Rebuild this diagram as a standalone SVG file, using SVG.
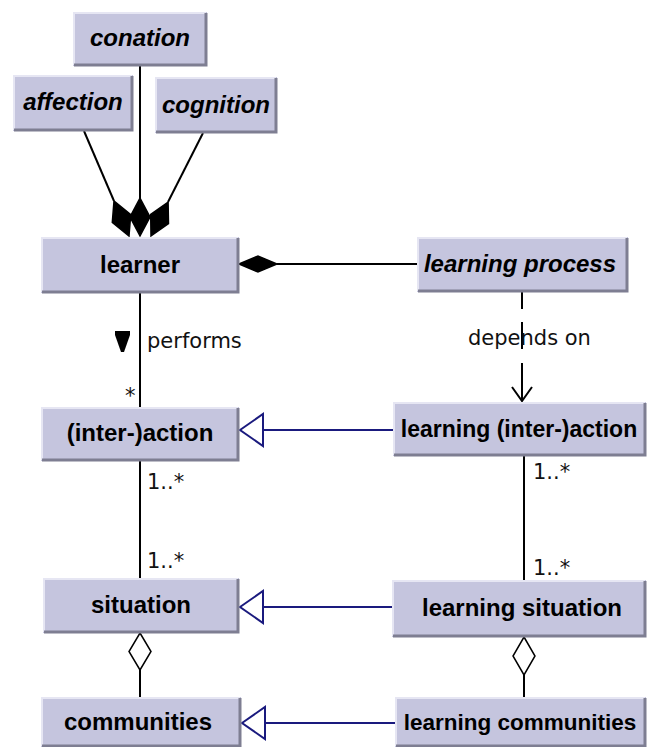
<svg xmlns="http://www.w3.org/2000/svg" width="647" height="747" viewBox="0 0 647 747">
<style>
.box{fill:#c5c5de}
.hl{fill:none;stroke:#e6e6f3;stroke-width:2}
.sh{fill:none;stroke:#7e7e92;stroke-width:3}
.lbl{font-family:"Liberation Sans",Arial,sans-serif;font-weight:bold;font-size:24px;fill:#000;text-anchor:middle}
.it{font-style:italic}
.small{font-family:"DejaVu Sans",sans-serif;font-size:21px;fill:#111}
.ln{stroke:#000;stroke-width:2;fill:none}
.gen{stroke:#1a1a7e;stroke-width:2;fill:none}
.tri{stroke:#1a1a7e;stroke-width:2;fill:#fff}
.dia{stroke:#000;stroke-width:1.5;fill:#000}
.odia{stroke:#000;stroke-width:1.5;fill:#fff}
</style>
<rect width="647" height="747" fill="#fff"/>
<g id="connectors">
  <line class="ln" x1="140" y1="66" x2="140" y2="200"/>
  <line class="ln" x1="84" y1="131" x2="114" y2="201"/>
  <line class="ln" x1="203" y1="133" x2="168" y2="202"/>
  <polygon class="dia" points="140,236 150,217 140,198 130,217"/>
  <polygon class="dia" points="129,236 130.7,214.6 114,201 112.3,222.4"/>
  <polygon class="dia" points="151,236 168.5,223.5 168.1,202.1 150.7,214.5"/>
  <line class="ln" x1="277" y1="264" x2="417" y2="264"/>
  <polygon class="dia" points="239,264 258,256 277,264 258,272"/>
  <line class="ln" x1="140" y1="293" x2="140" y2="407"/>
  <polygon points="115,331 130,331 130,335 124,352 121,352 115,335" fill="#000"/>
  <text class="small" x="147" y="348">performs</text>
  <text class="small" x="125" y="403">*</text>
  <line class="ln" x1="522" y1="292" x2="522" y2="309"/>
  <line class="ln" x1="522" y1="322" x2="522" y2="349"/>
  <line class="ln" x1="522" y1="363" x2="522" y2="401"/>
  <polyline class="ln" points="512,387 522,401 532,387"/>
  <text class="small" x="468" y="345">depends on</text>
  <line class="gen" x1="263" y1="430" x2="393" y2="430"/>
  <polygon class="tri" points="240,430 263,414 263,446"/>
  <line class="ln" x1="140" y1="461" x2="140" y2="578"/>
  <text class="small" x="147" y="489">1..*</text>
  <text class="small" x="147" y="568">1..*</text>
  <line class="ln" x1="524" y1="456" x2="524" y2="580"/>
  <text class="small" x="533" y="479">1..*</text>
  <text class="small" x="533" y="575">1..*</text>
  <line class="gen" x1="263" y1="607" x2="392" y2="607"/>
  <polygon class="tri" points="240,607 263,591 263,623"/>
  <line class="ln" x1="140" y1="670" x2="140" y2="697"/>
  <polygon class="odia" points="140,633 151,651.5 140,670 129,651.5"/>
  <line class="ln" x1="524" y1="675" x2="524" y2="697"/>
  <polygon class="odia" points="524,637 535,656 524,675 513,656"/>
  <line class="gen" x1="265" y1="723" x2="395" y2="723"/>
  <polygon class="tri" points="242,723 265,707 265,739"/>
</g>
<g id="conation">
  <rect class="box" x="73" y="12" width="134" height="54"/>
  <polyline class="hl" points="74,65 74,13 206,13"/>
  <polyline class="sh" points="74,65 206,65 206,13"/>
  <text class="lbl it" x="140" y="46">conation</text>
</g>
<g id="affection">
  <rect class="box" x="13" y="75" width="120" height="56"/>
  <polyline class="hl" points="14,130 14,76 132,76"/>
  <polyline class="sh" points="14,130 132,130 132,76"/>
  <text class="lbl it" x="73" y="110">affection</text>
</g>
<g id="cognition">
  <rect class="box" x="155" y="77" width="122" height="56"/>
  <polyline class="hl" points="156,132 156,78 276,78"/>
  <polyline class="sh" points="156,132 276,132 276,78"/>
  <text class="lbl it" x="216" y="113">cognition</text>
</g>
<g id="learner">
  <rect class="box" x="41" y="237" width="198" height="56"/>
  <polyline class="hl" points="42,292 42,238 238,238"/>
  <polyline class="sh" points="42,292 238,292 238,238"/>
  <text class="lbl" x="140" y="273">learner</text>
</g>
<g id="learning-process">
  <rect class="box" x="417" y="237" width="211" height="55"/>
  <polyline class="hl" points="418,291 418,238 627,238"/>
  <polyline class="sh" points="418,291 627,291 627,238"/>
  <text class="lbl it" x="520" y="272">learning process</text>
</g>
<g id="interaction">
  <rect class="box" x="41" y="407" width="198" height="54"/>
  <polyline class="hl" points="42,460 42,408 238,408"/>
  <polyline class="sh" points="42,460 238,460 238,408"/>
  <text class="lbl" x="140" y="441">(inter-)action</text>
</g>
<g id="learning-interaction">
  <rect class="box" x="393" y="402" width="253" height="54"/>
  <polyline class="hl" points="394,455 394,403 645,403"/>
  <polyline class="sh" points="394,455 645,455 645,403"/>
  <text class="lbl" x="519" y="437" style="font-size:23px">learning (inter-)action</text>
</g>
<g id="situation">
  <rect class="box" x="43" y="578" width="196" height="55"/>
  <polyline class="hl" points="44,632 44,579 238,579"/>
  <polyline class="sh" points="44,632 238,632 238,579"/>
  <text class="lbl" x="141" y="613">situation</text>
</g>
<g id="learning-situation">
  <rect class="box" x="392" y="580" width="254" height="57"/>
  <polyline class="hl" points="393,636 393,581 645,581"/>
  <polyline class="sh" points="393,636 645,636 645,581"/>
  <text class="lbl" x="522" y="616">learning situation</text>
</g>
<g id="communities">
  <rect class="box" x="41" y="697" width="200" height="50"/>
  <polyline class="hl" points="42,746 42,698 240,698"/>
  <polyline class="sh" points="42,746 240,746 240,698"/>
  <text class="lbl" x="138" y="730">communities</text>
</g>
<g id="learning-communities">
  <rect class="box" x="395" y="697" width="251" height="50"/>
  <polyline class="hl" points="396,746 396,698 645,698"/>
  <polyline class="sh" points="396,746 645,746 645,698"/>
  <text class="lbl" x="520" y="730" style="font-size:22.5px">learning communities</text>
</g>
</svg>
